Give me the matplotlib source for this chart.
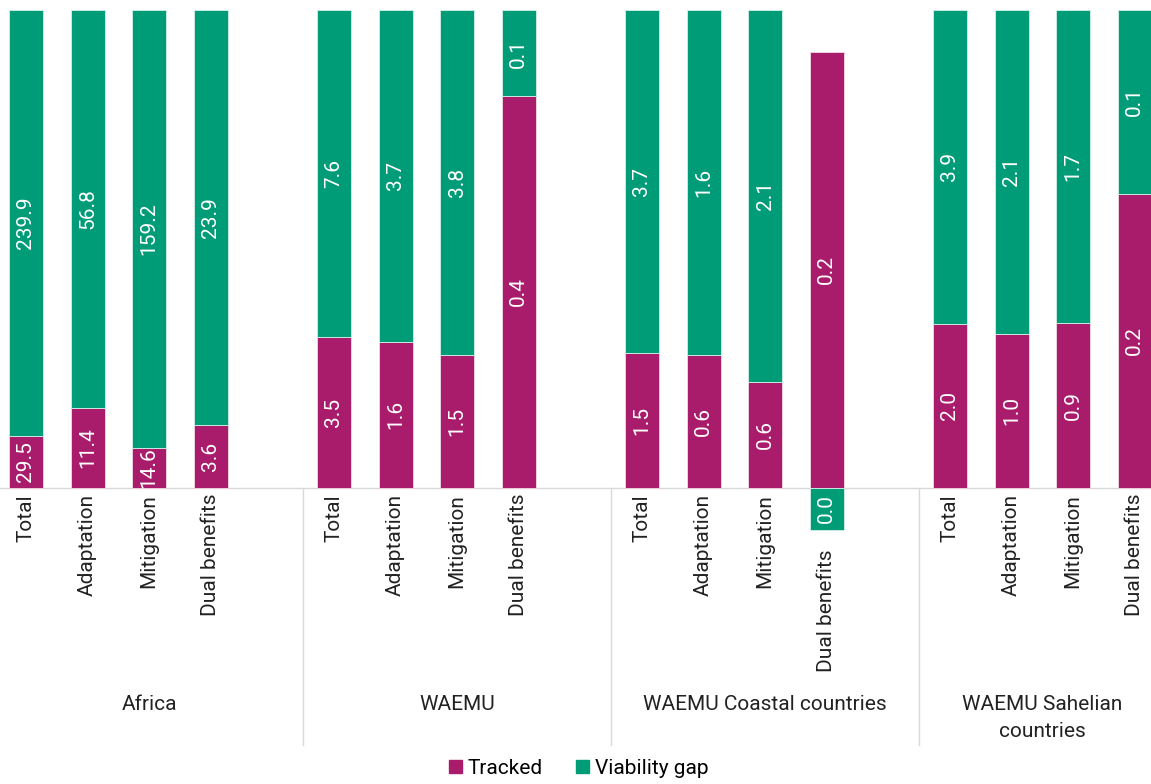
import matplotlib.pyplot as plt
import numpy as np
from matplotlib.patches import Patch
from matplotlib.transforms import blended_transform_factory

plt.rcParams["font.family"] = ["Roboto", "DejaVu Sans"]

# values in USD bn (bar shares follow from them)
groups = ["Africa", "WAEMU", "WAEMU Coastal countries", "WAEMU Sahelian\ncountries"]
categories = ["Total", "Adaptation", "Mitigation", "Dual benefits"]
tracked = [
    [29.5, 11.4, 14.6, 3.6],
    [3.5, 1.63, 1.46, 0.41],
    [1.46, 0.62, 0.6, 0.21],
    [2.04, 1.0, 0.9, 0.16],
]
viability_gap = [
    [239.9, 56.8, 159.2, 23.9],
    [7.6, 3.7, 3.8, 0.09],
    [3.7, 1.6, 2.1, -0.02],
    [3.9, 2.1, 1.7, 0.1],
]

TRACKED_COLOR = "#A91B6B"
GAP_COLOR = "#009B77"
W, H = 1151, 784
FS = 15

fig = plt.figure(figsize=(W / 100, H / 100), dpi=100)
# plot area: y from 10 px (100%) to 488 px (0%)
ax = fig.add_axes([0, (H - 488) / H, 1, 478 / H])
slot = 61.6
x_left = -26 / slot
ax.set_xlim(x_left, x_left + W / slot)
ax.set_ylim(0, 1)
ax.axis("off")

xs, tr_share, gap_share, tr_vals, gap_vals, cats = [], [], [], [], [], []
for g, (tv, gv) in enumerate(zip(tracked, viability_gap)):
    for i, cat in enumerate(categories):
        t, v = tv[i], gv[i]
        denom = abs(t) + abs(v)
        xs.append(5 * g + i)
        tr_share.append(t / denom)
        gap_share.append(v / denom)
        tr_vals.append(t)
        gap_vals.append(v)
        cats.append(cat)

xs = np.array(xs)
tr_share = np.array(tr_share)
gap_share = np.array(gap_share)
gap_bottom = np.where(gap_share >= 0, tr_share, 0)

ax.bar(xs, tr_share, width=0.55, color=TRACKED_COLOR, edgecolor="#f3dbe7", linewidth=0.6, clip_on=False)
ax.bar(xs, gap_share, bottom=gap_bottom, width=0.55, color=GAP_COLOR, edgecolor="#d5efe8", linewidth=0.6, clip_on=False)

# zero line
ax.plot([x_left, x_left + W / slot], [0, 0], color="#d9d9d9", lw=1, clip_on=False, zorder=0)

for x, ts, gs, gb, tv, gv in zip(xs, tr_share, gap_share, gap_bottom, tr_vals, gap_vals):
    ax.text(x, ts / 2, f"{tv:.1f}", rotation=90, ha="center", va="center",
            color="white", fontsize=FS)
    ax.text(x, gb + gs / 2, f"{abs(gv):.1f}", rotation=90, ha="center", va="center",
            color="white", fontsize=FS)

# category labels
trans = blended_transform_factory(ax.transData, fig.transFigure)
for x, gs, cat in zip(xs, gap_share, cats):
    top_px = 494 if gs >= 0 else 550
    ax.text(x, 1 - top_px / H, cat, rotation=90, ha="center", va="top",
            fontsize=FS, color="#222222", transform=trans)

# group separators and group labels
for g in range(1, 4):
    xsep = 5 * g - 0.5
    ax.plot([xsep, xsep], [1 - 488 / H, 1 - 745 / H], color="#d9d9d9", lw=1,
            transform=trans, clip_on=False)
for g, name in enumerate(groups):
    n_slots = 5 if g < 3 else 4
    xc = 5 * g - 0.5 + n_slots / 2
    ax.text(xc, 1 - 695 / H, name, ha="center", va="top", fontsize=FS,
            color="#222222", transform=trans, linespacing=1.55)

handles = [Patch(color=TRACKED_COLOR, label="Tracked"), Patch(color=GAP_COLOR, label="Viability gap")]
fig.legend(handles=handles, loc="center", bbox_to_anchor=(579 / W, 1 - 768 / H), ncol=2,
           frameon=False, fontsize=FS, handlelength=0.6, handleheight=0.6,
           handletextpad=0.3, columnspacing=1.6)

fig.savefig("out.png", dpi=100)
